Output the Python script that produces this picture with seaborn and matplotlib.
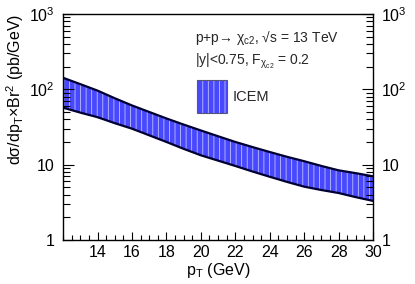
import numpy as np
import pandas as pd
import matplotlib
matplotlib.use("Agg")
import matplotlib.pyplot as plt
import seaborn as sns
from matplotlib.ticker import LogLocator, MultipleLocator, FixedLocator, FixedFormatter, NullFormatter
from matplotlib.patches import Rectangle

pt = [12, 13, 14, 15, 16, 17, 18, 19, 20, 21, 22, 23, 24, 25, 26, 27, 28, 29, 30]
upper = [142, 117, 96, 76, 61, 50, 41, 34, 28.4, 23.8, 20, 17.1, 14.7, 12.7, 11.1, 9.6, 8.4, 7.7, 7.0]
lower = [57, 49, 42.6, 35.5, 30, 24.5, 20, 16.2, 13.3, 11.3, 9.6, 8.1, 6.9, 5.9, 5.1, 4.6, 4.2, 3.7, 3.3]

df = pd.DataFrame({"pt": pt, "upper": upper, "lower": lower})

sns.set_style("ticks")
plt.rcParams['font.family'] = ['Liberation Sans', 'DejaVu Sans']
plt.rcParams['mathtext.fontset'] = 'custom'
plt.rcParams['mathtext.rm'] = 'Liberation Sans'
plt.rcParams['mathtext.it'] = 'Liberation Sans'
plt.rcParams['hatch.linewidth'] = 0.6
plt.rcParams['axes.axisbelow'] = False
plt.rcParams.update({
    'xtick.direction': 'in', 'ytick.direction': 'in',
    'xtick.minor.visible': True, 'ytick.minor.visible': True,
    'xtick.major.size': 6, 'xtick.minor.size': 3.5,
    'ytick.major.size': 8, 'ytick.minor.size': 5,
    'xtick.major.width': 0.8, 'xtick.minor.width': 0.8,
    'ytick.major.width': 0.8, 'ytick.minor.width': 0.8,
    'xtick.color': 'black', 'ytick.color': 'black',
    'ytick.right': True, 'xtick.top': False,
    'xtick.labelsize': 11.5, 'ytick.labelsize': 11.5,
})

fig = plt.figure(figsize=(4.15, 2.84), dpi=100)
ax = fig.add_axes([0.152, 0.155, 0.747, 0.796])
ax.set_yscale("log")

band_face = "#4848ff"
band_hatch = "#c0c0ff"
ax.fill_between(df["pt"], df["lower"], df["upper"], facecolor=band_face,
                edgecolor=band_hatch, hatch="|||", linewidth=0)
sns.lineplot(data=df, x="pt", y="upper", ax=ax, color="#000033", linewidth=1.6)
sns.lineplot(data=df, x="pt", y="lower", ax=ax, color="#000033", linewidth=1.6)

ax.set_xlim(12, 30)
ax.set_ylim(1, 1000)
ax.set_axisbelow(False)

ax.xaxis.set_major_locator(FixedLocator([14, 16, 18, 20, 22, 24, 26, 28, 30]))
ax.xaxis.set_minor_locator(MultipleLocator(0.5))
ax.yaxis.set_major_locator(FixedLocator([1, 10, 100, 1000]))
ax.yaxis.set_major_formatter(FixedFormatter(["1", "10", "$10^2$", "$10^3$"]))
ax.yaxis.set_minor_locator(LogLocator(base=10, subs=np.arange(2, 10), numticks=20))
ax.yaxis.set_minor_formatter(NullFormatter())

ax.tick_params(axis="y", which="both", left=True, right=True, labelright=True, pad=6)
ax.tick_params(axis="x", which="both", bottom=True, top=False)
for s in ax.spines.values():
    s.set_linewidth(1.0)
    s.set_color("black")

ax.set_xlabel("p$_{\\mathrm{T}}$ (GeV)", fontsize=11.5, labelpad=1, color="black")
ax.set_ylabel("d\u03c3/dp$_{\\mathrm{T}}$\u00d7Br$^2$ (pb/GeV)", fontsize=11.5,
              loc="top", labelpad=2, color="black")

ax.text(0.425, 0.875, "p+p\u2192 $\\chi_{c2}$, \u221as = 13 TeV", transform=ax.transAxes, fontsize=10)
ax.text(0.425, 0.775, "|y|<0.75, F$_{\\chi_{c2}}$ = 0.2", transform=ax.transAxes, fontsize=10)

ax.add_patch(Rectangle((0.432, 0.562), 0.097, 0.146, transform=ax.transAxes,
                       facecolor=band_face, edgecolor=band_hatch, hatch="|||", linewidth=0))
ax.add_patch(Rectangle((0.432, 0.562), 0.097, 0.146, transform=ax.transAxes,
                       facecolor="none", edgecolor="#555577", linewidth=0.8))
ax.text(0.548, 0.633, "ICEM", transform=ax.transAxes, fontsize=10.5, va="center")

# force the minor tick marks on after the first draw
fig.canvas.draw()
for axis, size, second in ((ax.xaxis, 3.5, False), (ax.yaxis, 5, True)):
    for t in axis.get_minor_ticks():
        for ln, vis in ((t.tick1line, True), (t.tick2line, second)):
            ln.set_visible(vis)
            ln.set_markersize(size)
            ln.set_markeredgewidth(0.8)
            ln.set_color("black")
            ln.set_zorder(3)

fig.savefig("out.png", dpi=100)
